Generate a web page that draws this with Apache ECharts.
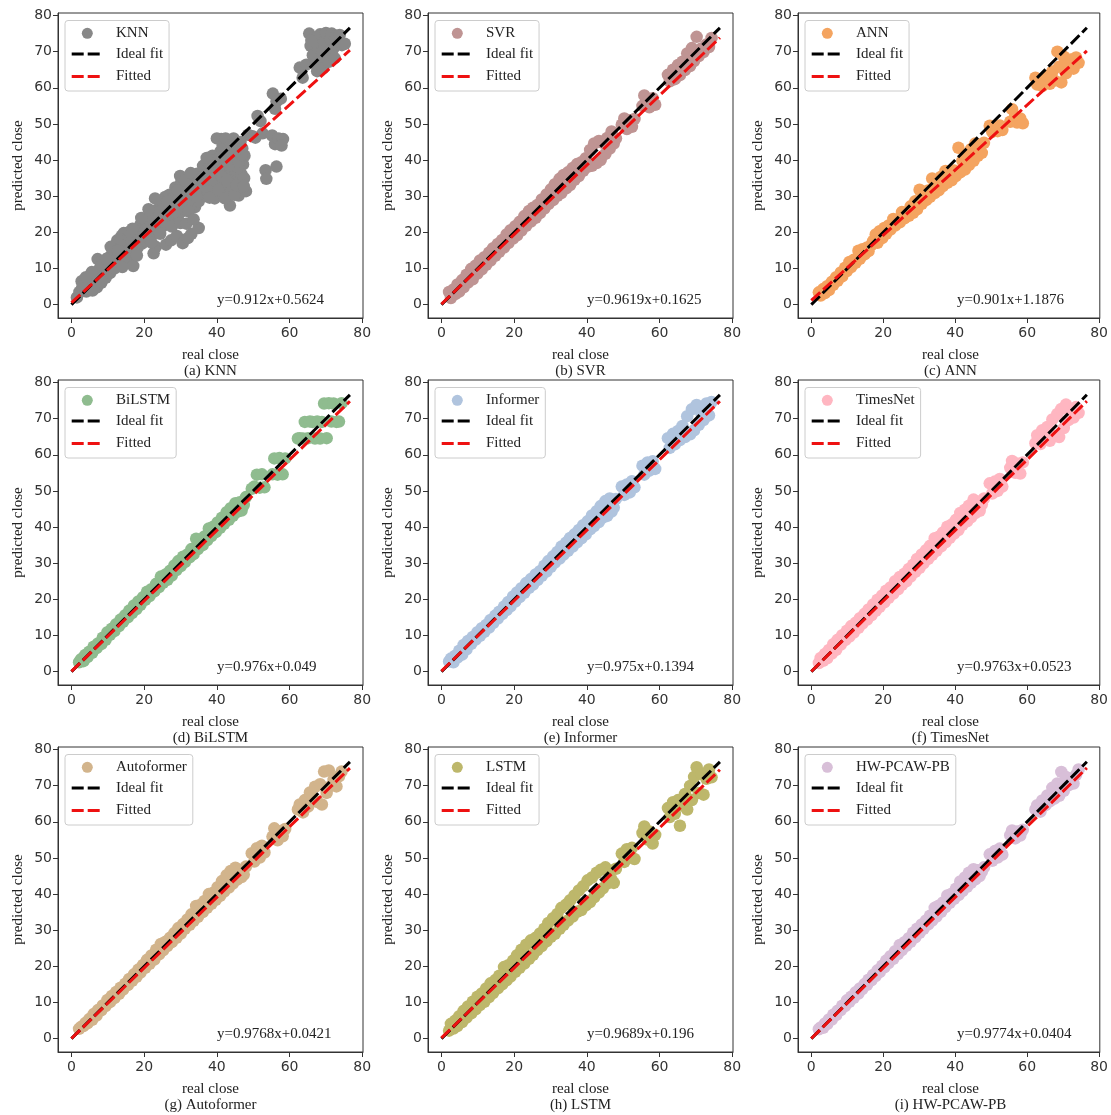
<!DOCTYPE html>
<html>
<head>
<meta charset="utf-8">
<script src="https://cdn.jsdelivr.net/npm/echarts@6/dist/echarts.min.js"></script>
<style>html,body{margin:0;padding:0;background:#fff}#c{width:1111px;height:1115px}</style>
</head>
<body>
<div id="c"></div>
<script>
// ---------------- DATA ----------------
const modelNames = ['KNN','SVR','ANN','BiLSTM','Informer','TimesNet','Autoformer','LSTM','HW-PCAW-PB'];
const captions = ['(a) KNN','(b) SVR','(c) ANN','(d) BiLSTM','(e) Informer','(f) TimesNet','(g) Autoformer','(h) LSTM','(i) HW-PCAW-PB'];
const equations = ['y=0.912x+0.5624','y=0.9619x+0.1625','y=0.901x+1.1876','y=0.976x+0.049','y=0.975x+0.1394','y=0.9763x+0.0523','y=0.9768x+0.0421','y=0.9689x+0.196','y=0.9774x+0.0404'];
const xTicks = [0,20,40,60,80];
const yTicks = [0,10,20,30,40,50,60,70,80];
const lineX = [0, 76.6];           // extent of ideal / fitted lines
const fitStart = [0.56,0.16,1.19,0.05,0.14,0.05,0.04,0.20,0.04];
const fitEnd   = [70.42,73.84,70.21,74.81,74.83,74.84,74.87,74.41,74.91];

const knnReal = [1.5,2.2,2.8,3.2,3.6,4.1,4.5,5.0,5.3,5.8,6.2,6.6,7.0,7.4,7.8,8.2,8.6,9.0,9.4,9.8,
10.2,10.6,11.0,11.4,11.8,12.2,12.6,13.0,13.4,13.8,14.2,14.6,15.0,15.4,15.8,16.2,16.6,17.0,17.4,17.8,
18.2,18.6,19.0,19.4,19.8,20.2,20.6,21.0,21.8,22.2,22.6,23.2,22.8,23.4,23.8,24.2,24.6,25.0,25.4,25.8,
26.2,26.6,27.0,26.0,27.8,28.2,28.6,27.4,29.4,29.8,29.9,30.2,29.0,31.0,31.4,30.6,32.0,33.0,35.0,34.0,
32.6,33.0,33.4,33.8,34.2,34.6,35.0,35.4,35.8,36.2,36.6,37.0,37.4,37.8,38.2,38.6,39.0,39.4,39.8,40.2,
40.6,41.0,41.2,41.6,42.0,42.4,42.8,43.2,43.6,44.0,44.4,44.8,45.2,45.6,46.0,46.4,46.8,47.2,47.6,48.0,
47.5,46.5,44.6,43.0,40.0,21.4,24.0,26.0,27.0,28.0,30.8,31.8,32.4,36.0,38.4,39.6,41.8,43.8,45.8,44.2,
42.6,46.2,47.0,38.8,37.2,12.0,13.2,14.4,15.6,7.2,8.0,
10.8,12.8,14.0,16.0,16.8,18.0,19.2,20.4,21.2,22.0,23.0,24.4,25.2,26.4,27.6,28.4,29.2,30.0,30.4,31.2,
31.6,32.2,32.8,33.6,34.4,35.2,36.4,37.6,38.0,39.2,40.4,40.8,41.4,42.2,42.8,43.4,44.8,45.4,46.0,46.8,
47.4,41.6,42.4,44.0,45.0,3.0,4.0,6.0,8.4,9.6,5.6,
48.6,49.8,50.6,51.2,52.0,52.6,53.4,53.6,56.4,55.2,56.0,57.0,58.2,57.8,55.4,56.4,57.6,56.0,
62.8,63.6,64.6,65.4,65.8,66.4,66.8,67.2,67.6,68.0,68.4,68.8,69.2,69.6,70.0,70.4,70.8,71.2,71.6,72.0,
72.4,72.8,73.2,73.8,74.4,75.2,66.0,69.0];
const knnPred = [2.0,3.5,6.5,4.2,7.0,3.6,5.8,4.3,7.2,3.9,6.1,8.3,4.8,7.0,10.0,6.0,8.6,11.5,7.4,9.8,
13.0,8.7,11.2,14.8,10.0,12.6,17.8,11.4,15.2,19.0,13.2,16.6,19.6,12.8,15.2,18.2,14.4,10.7,17.0,20.4,
15.8,18.8,22.2,16.9,20.0,23.4,17.6,21.2,24.4,19.6,14.2,16.0,22.4,26.2,20.8,23.8,28.0,21.6,25.2,29.8,
22.8,26.6,30.4,16.6,23.4,27.6,32.4,17.8,24.8,29.0,35.6,33.8,19.0,26.0,30.2,17.0,18.4,19.6,21.2,27.0,
31.0,27.6,34.2,29.2,32.6,36.2,28.6,31.8,34.8,38.4,30.0,33.4,36.6,39.0,31.2,34.0,37.2,29.4,32.4,35.4,
38.4,42.4,45.8,30.8,33.6,36.8,40.0,44.2,27.4,31.6,34.6,37.4,40.4,43.6,30.2,33.2,36.0,38.8,41.2,31.4,
35.0,45.0,46.0,45.4,46.0,18.4,25.6,24.4,25.0,29.6,31.6,28.0,33.6,32.4,36.2,39.6,39.0,38.6,38.2,41.8,
42.6,41.0,43.2,41.2,40.6,16.0,17.2,19.8,19.4,12.6,11.8,
16.0,15.0,10.4,20.2,21.0,13.6,24.0,20.6,26.4,17.2,29.4,19.6,23.0,28.6,21.6,25.6,31.6,22.6,28.0,34.4,
22.4,25.8,36.4,23.6,29.8,34.4,35.6,31.4,29.6,34.6,31.8,40.8,35.4,29.4,34.2,38.6,30.4,33.0,39.6,41.4,
32.8,44.0,46.0,44.2,42.4,5.0,7.6,4.2,10.8,12.6,9.0,
47.0,46.6,46.2,52.2,50.8,47.4,37.2,34.8,38.2,46.8,44.4,46.0,45.8,44.0,58.4,56.2,57.0,54.2,
65.6,62.8,66.4,75.0,71.6,69.0,73.8,66.6,64.6,71.0,74.8,68.0,65.4,72.6,75.2,69.8,67.2,73.4,75.0,70.8,
68.2,74.4,72.0,74.6,71.8,72.2,73.0,70.0];

const realClose = [2.1,2.6,3.3,3.8,4.4,4.9,5.7,6.1,6.9,7.3,
8.2,8.6,9.4,9.9,10.6,11.1,11.8,12.3,13.1,13.5,
14.2,14.8,15.5,15.9,16.7,17.2,17.9,18.4,19.0,19.7,
20.3,20.8,21.5,22.0,22.8,23.3,24.1,24.6,25.2,25.9,
26.4,27.1,27.6,28.3,28.9,29.4,30.1,30.7,31.2,31.9,
32.5,33.0,33.6,34.3,34.8,35.4,36.1,36.6,37.3,37.8,
38.5,39.0,39.7,40.2,40.9,41.4,42.0,42.7,43.3,43.8,
44.4,45.1,45.6,46.3,46.8,47.4,48.0,
49.6,50.3,51.0,51.8,52.4,53.1,
55.3,55.8,56.7,57.2,58.1,58.8,
62.3,62.8,63.7,64.2,65.1,65.6,66.3,67.0,67.6,68.4,68.9,69.5,70.2,70.8,71.5,72.1,72.9,73.6,74.3];

const svrPred = [3.5,1.8,4.2,2.9,5.6,3.6,6.8,4.8,8.3,6.1,
9.9,7.0,10.8,8.6,12.2,9.8,13.1,11.0,14.4,12.2,
15.6,13.5,16.8,14.6,17.9,15.8,19.4,17.0,20.6,18.3,
21.7,19.2,22.9,20.5,24.5,21.8,25.9,23.0,26.8,24.0,
27.6,25.3,29.1,26.6,30.5,27.8,31.9,28.9,33.3,30.1,
34.8,30.9,35.9,32.2,36.6,33.1,37.8,34.5,38.9,35.6,
39.4,37.0,40.5,38.1,42.8,38.4,44.6,39.2,45.3,40.0,
44.8,41.7,46.1,43.2,47.9,44.6,46.0,
49.8,51.5,48.6,51.0,49.2,51.4,
55.0,57.9,56.2,54.6,57.1,55.3,
63.6,61.8,65.0,62.4,66.3,63.5,67.2,64.9,69.5,66.0,71.0,67.4,74.1,68.8,70.9,69.9,72.0,71.3,73.8];

const annPred = [3.4,2.5,4.3,3.2,5.1,4.0,6.3,5.5,7.6,6.6,
8.9,7.8,10.2,9.3,11.8,10.4,12.4,11.6,14.9,12.7,
15.3,13.9,15.8,14.8,16.5,17.6,19.4,17.1,20.3,18.4,
21.2,19.6,21.9,20.8,23.7,21.9,23.5,22.8,25.6,23.9,
25.1,24.6,27.2,25.4,28.6,26.4,31.8,27.9,30.2,28.9,
31.6,29.8,34.9,30.9,33.1,31.6,35.4,32.8,37.0,33.7,
35.7,34.4,37.1,35.6,43.4,36.6,39.8,37.4,41.5,38.6,
43.0,39.8,44.6,41.2,43.6,42.0,44.8,
49.5,47.8,49.2,48.0,49.6,48.3,
50.6,54.1,52.2,50.4,51.5,50.2,
62.8,60.9,62.2,60.5,61.9,63.3,61.1,64.5,62.0,70.0,65.8,61.5,68.6,64.0,66.7,67.8,65.3,68.4,66.9];

const bilstmPred = [2.6,3.4,2.9,4.6,4.0,5.5,5.2,6.9,6.5,7.8,
7.6,9.4,8.8,10.9,10.2,11.9,11.2,13.1,12.6,14.4,
13.8,15.6,15.0,16.9,16.2,18.3,17.3,19.4,18.5,20.6,
19.9,22.1,20.9,22.8,22.2,24.3,23.4,26.3,24.6,26.9,
25.4,27.9,26.6,29.4,28.1,30.6,29.2,31.8,30.3,32.4,
31.6,33.9,32.5,36.8,33.9,36.2,35.0,37.4,36.3,39.6,
37.5,40.1,38.6,41.3,39.8,42.6,40.9,44.1,42.0,45.2,
43.1,46.6,44.2,46.9,44.6,46.1,48.3,
50.6,51.2,54.5,50.9,54.6,51.0,
54.6,59.0,54.5,59.1,54.6,59.0,
64.5,64.6,64.5,69.1,64.6,69.2,69.1,64.5,69.2,64.5,69.1,74.2,64.6,74.3,69.2,74.2,69.1,69.2,74.3];

const informerPred = [2.8,3.6,2.6,4.4,3.9,5.8,4.7,7.4,6.2,8.5,
7.7,9.6,8.9,10.9,9.9,12.0,11.0,12.9,12.2,14.3,
13.4,15.5,14.7,16.6,15.9,18.0,17.0,19.3,18.1,20.8,
19.4,21.9,20.6,23.1,21.8,24.5,23.2,25.6,24.1,26.9,
25.3,27.8,26.5,29.3,27.7,30.6,29.0,31.9,30.2,33.1,
31.3,34.6,32.4,35.7,33.4,37.0,34.6,38.0,35.8,39.2,
36.9,40.5,38.0,41.6,39.4,43.2,40.3,44.4,41.4,45.8,
42.6,47.2,43.1,47.9,44.3,45.4,47.8,
51.2,48.9,51.8,49.6,52.7,51.0,
57.0,54.5,57.9,55.6,58.2,56.1,
64.6,61.9,65.8,62.9,66.6,64.1,68.0,64.9,70.7,65.7,72.6,66.8,73.8,68.3,71.5,69.6,74.2,70.9,74.6];

const timesnetPred = [2.4,3.8,3.0,4.9,3.7,6.0,5.0,7.6,6.0,8.8,
7.5,10.1,8.7,11.3,9.7,12.6,10.8,13.5,12.1,14.8,
13.3,16.0,14.4,17.2,15.6,18.6,16.8,19.9,17.9,21.1,
19.2,22.4,20.4,23.3,21.6,25.0,22.8,26.2,24.0,27.1,
25.0,28.4,26.3,29.6,27.6,31.2,28.7,32.4,30.0,33.6,
31.2,34.8,32.3,36.9,33.4,37.3,34.7,38.5,35.8,40.1,
37.0,40.7,38.2,42.0,39.2,43.9,40.6,44.8,41.6,45.9,
42.7,47.6,43.9,47.0,44.5,46.3,47.9,
52.1,49.3,52.6,50.0,53.3,51.2,
56.4,58.3,55.0,57.6,54.8,57.9,
63.2,65.4,63.0,66.8,64.6,67.7,63.9,69.8,65.2,71.3,64.9,72.7,67.4,73.9,69.6,71.0,70.3,73.2,71.6];

const autoformerPred = [2.7,3.2,3.5,4.3,4.2,5.4,5.2,6.8,6.4,7.9,
7.8,9.2,9.0,10.7,10.1,11.8,11.2,12.9,12.4,14.1,
13.6,15.2,14.8,16.5,16.0,17.8,17.1,19.1,18.3,20.4,
19.6,21.8,20.7,23.0,21.9,24.6,23.3,26.2,24.4,26.8,
25.6,27.9,26.7,29.2,27.9,30.6,29.1,31.7,30.4,33.0,
31.5,34.4,32.6,36.7,33.7,37.0,35.0,38.1,36.2,40.0,
37.3,40.4,38.4,41.9,39.5,43.6,40.7,45.2,41.8,46.4,
42.9,47.3,44.0,46.6,44.7,45.4,47.6,
51.3,49.0,52.7,50.1,53.4,51.5,
55.9,58.2,54.9,57.4,56.0,58.0,
63.4,64.8,62.6,66.0,64.2,68.1,66.7,69.7,65.5,70.4,64.8,73.9,68.0,74.2,70.0,71.6,69.8,72.6,73.9];

const lstmPred = [2.2,4.1,2.8,5.0,3.5,6.2,4.6,7.7,5.8,8.9,
7.0,10.2,8.1,11.6,9.3,12.5,10.2,13.9,11.5,15.3,
12.6,16.2,13.9,17.4,15.0,19.8,16.1,20.3,17.2,21.6,
18.5,23.1,19.6,24.6,20.8,26.0,22.1,27.2,23.2,27.9,
24.5,29.1,25.6,30.4,26.9,32.0,28.2,33.3,29.0,34.5,
30.4,36.2,31.5,37.1,32.7,38.3,33.8,39.6,35.1,41.0,
35.6,42.2,36.9,43.8,37.8,44.6,39.1,45.9,40.4,46.7,
41.6,47.4,42.9,46.2,44.0,43.1,47.0,
51.2,48.9,52.4,50.2,52.8,49.7,
56.9,58.7,55.1,57.3,54.0,56.4,
63.8,61.3,65.4,62.2,66.0,58.9,64.5,67.7,63.4,69.9,66.0,72.4,75.1,68.0,73.2,67.5,71.9,74.5,72.3];

const hwPcawPbPred = [2.6,3.1,3.0,4.2,4.0,5.3,5.3,6.6,6.5,7.7,
7.9,9.1,9.0,10.6,10.2,11.6,11.3,12.8,12.5,13.9,
13.7,15.1,14.9,16.3,16.1,17.6,17.3,18.9,18.4,20.2,
19.7,21.6,20.9,22.8,22.1,24.2,23.4,25.9,24.5,26.7,
25.7,27.8,26.8,29.3,28.0,30.4,29.3,31.6,30.4,32.7,
31.6,34.0,32.7,36.2,33.8,36.8,35.1,37.7,36.4,39.6,
37.6,40.1,38.7,41.5,39.7,43.5,40.8,44.6,42.0,45.9,
43.1,46.9,44.1,46.6,45.0,46.2,47.4,
51.0,49.2,51.9,50.1,52.6,50.9,
56.3,57.6,55.4,57.3,56.2,57.8,
63.4,64.6,62.8,65.9,64.6,67.3,65.7,69.4,66.4,70.6,67.2,73.8,68.6,72.4,70.1,71.7,70.6,73.0,74.5];

// ---------------- LAYOUT / STYLE ----------------
const colors = ['#888888','#bf9493','#f4a460','#8fbc8f','#b0c4de','#ffb6c1','#d2b48c','#bdb76b','#d8bfd8'];
const xs = [knnReal, realClose, realClose, realClose, realClose, realClose, realClose, realClose, realClose];
const ys = [knnPred, svrPred, annPred, bilstmPred, informerPred, timesnetPred, autoformerPred, lstmPred, hwPcawPbPred];
const colLeft = [58, 428, 798];
const rowTop = [13, 380, 747];
const BOX = 305;
const SERIF = '"Liberation Serif","Times New Roman",serif';
const SANS = '"DejaVu Sans",sans-serif';

const mctx = document.createElement('canvas').getContext('2d');
mctx.font = '15px ' + SERIF;
const tw = s => mctx.measureText(s).width;

const grids = [], xAxes = [], yAxes = [], series = [], graphics = [];
const dash = [12, 4];

for (let i = 0; i < 9; i++) {
  const L = colLeft[i % 3], T = rowTop[Math.floor(i / 3)];
  grids.push({left: L, top: T, width: BOX, height: BOX, show: true, borderColor: '#333', borderWidth: 1, backgroundColor: 'transparent'});
  xAxes.push({type: 'value', gridIndex: i, min: -3.7, max: 80.2,
    axisLine: {show: true, onZero: false, lineStyle: {color: '#333', width: 1}},
    axisTick: {show: true, length: 5, customValues: xTicks, lineStyle: {color: '#333'}},
    axisLabel: {customValues: xTicks, color: '#333', fontFamily: SANS, fontSize: 14, margin: 8},
    splitLine: {show: false}});
  yAxes.push({type: 'value', gridIndex: i, min: -3.7, max: 80.7,
    axisLine: {show: true, onZero: false, lineStyle: {color: '#333', width: 1}},
    axisTick: {show: true, length: 5, customValues: yTicks, lineStyle: {color: '#333'}},
    axisLabel: {customValues: yTicks, color: '#333', fontFamily: SANS, fontSize: 14, margin: 6},
    splitLine: {show: false}});
  const pts = xs[i].map((x, k) => [x, ys[i][k]]);
  series.push({type: 'scatter', xAxisIndex: i, yAxisIndex: i, data: pts, symbolSize: 12.5,
    itemStyle: {color: colors[i], opacity: 1}, silent: true, z: 2});
  series.push({type: 'line', xAxisIndex: i, yAxisIndex: i, data: [[lineX[0], lineX[0]], [lineX[1], lineX[1]]],
    symbol: 'none', lineStyle: {color: '#000', width: 3, type: dash}, silent: true, z: 3});
  series.push({type: 'line', xAxisIndex: i, yAxisIndex: i, data: [[lineX[0], fitStart[i]], [lineX[1], fitEnd[i]]],
    symbol: 'none', lineStyle: {color: '#ee1111', width: 3, type: dash}, silent: true, z: 4});

  // legend
  const lw = 51 + Math.max(tw(modelNames[i]), tw('Ideal fit')) + 6;
  graphics.push({type: 'group', x: L + 7, y: T + 7.5, z: 10, children: [
    {type: 'rect', shape: {x: 0, y: 0, width: lw, height: 70.5, r: 3}, style: {fill: 'rgba(255,255,255,0.85)', stroke: '#cccccc', lineWidth: 1}},
    {type: 'circle', shape: {cx: 22.3, cy: 12.8, r: 5.5}, style: {fill: colors[i]}},
    {type: 'line', shape: {x1: 6.7, y1: 33.5, x2: 35, y2: 33.5}, style: {stroke: '#000', lineWidth: 3, lineDash: dash}},
    {type: 'line', shape: {x1: 6.7, y1: 56, x2: 35, y2: 56}, style: {stroke: '#ee1111', lineWidth: 3, lineDash: dash}},
    {type: 'text', x: 51, y: 12.8, style: {text: modelNames[i], font: '15px ' + SERIF, fill: '#222', verticalAlign: 'middle'}},
    {type: 'text', x: 51, y: 33.5, style: {text: 'Ideal fit', font: '15px ' + SERIF, fill: '#222', verticalAlign: 'middle'}},
    {type: 'text', x: 51, y: 56, style: {text: 'Fitted', font: '15px ' + SERIF, fill: '#222', verticalAlign: 'middle'}}
  ]});
  // equation
  graphics.push({type: 'text', x: L + 159, y: T + 287, z: 10,
    style: {text: equations[i], font: '15px ' + SERIF, fill: '#222', verticalAlign: 'middle'}});
  // axis names
  graphics.push({type: 'text', x: L + BOX / 2, y: T + BOX + 37, z: 10,
    style: {text: 'real close', font: '15px ' + SERIF, fill: '#222', align: 'center', verticalAlign: 'middle'}});
  graphics.push({type: 'text', x: L + BOX / 2, y: T + BOX + 53, z: 10,
    style: {text: captions[i], font: '15px ' + SERIF, fill: '#222', align: 'center', verticalAlign: 'middle'}});
  graphics.push({type: 'text', x: L - 39.5, y: T + BOX / 2, rotation: Math.PI / 2, z: 10,
    style: {text: 'predicted close', font: '15px ' + SERIF, fill: '#222', align: 'center', verticalAlign: 'middle'}});
}

const chart = echarts.init(document.getElementById('c'), null, {renderer: 'canvas'});
chart.setOption({animation: false, grid: grids, xAxis: xAxes, yAxis: yAxes, series: series, graphic: graphics});
</script>
</body>
</html>
